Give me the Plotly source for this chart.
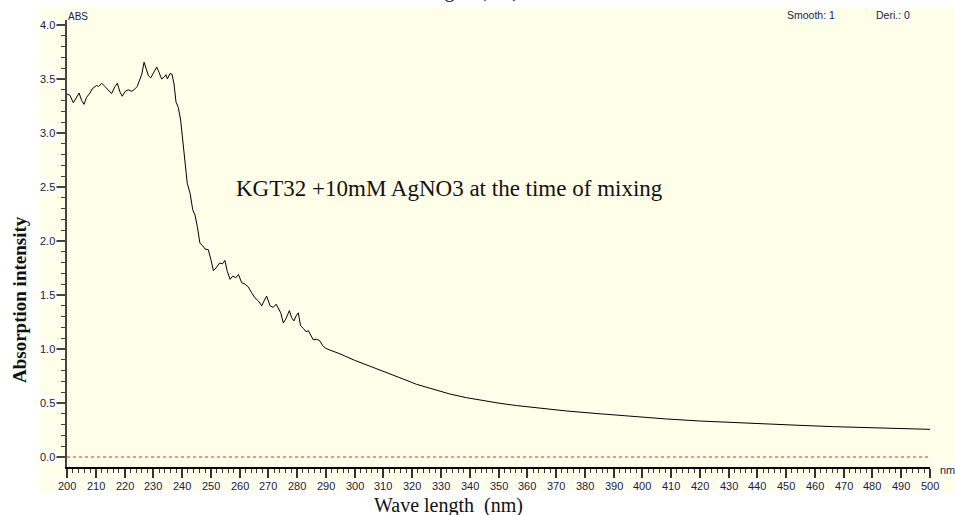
import plotly.graph_objects as go

# Absorbance spectrum (nm, ABS)
wavelength = [
    200, 201, 202.2, 203.4, 204.2, 205.1, 205.9, 206.8, 208, 208.8, 210.3, 211,
    212.1, 213.2, 214.4, 215.5, 216.7, 217.5, 218.4, 219.2, 220.2, 221.3, 222.5,
    223.3, 224.4, 225.1, 226, 226.8, 227.5, 228.3, 229.1, 230, 231.2, 232, 232.9,
    233.7, 234.4, 234.9, 235.8, 236.5, 237.2, 237.9, 238.7, 239.5, 240.2, 241,
    241.8, 242.8, 243.7, 244.5, 245.3, 246.2, 247.2, 248, 249.1, 250, 250.9,
    251.8, 253, 254.1, 254.9, 255.7, 256.7, 257.6, 258.7, 259.6, 260.7, 261.9,
    263, 264.2, 265.3, 266.5, 267.7, 268.5, 269.4, 270.6, 271.7, 272.7, 273.5,
    274.3, 275.2, 276.1, 277.3, 278.1, 278.9, 279.6, 280.4, 281.2, 282.2, 283.1,
    283.9, 284.7, 285.6, 286.8, 287.9, 288.9, 290, 291.4, 293.2, 294.9, 296.6,
    298.4, 300, 304.2, 309.9, 315.7, 321.5, 327.3, 333.1, 338.9, 344.7, 350.5,
    356.3, 362.1, 373.7, 385.3, 396.8, 408.4, 420, 431.6, 443.2, 454.8, 466.4,
    478, 489.5, 500,
]
absorbance = [
    3.36, 3.35, 3.28, 3.33, 3.37, 3.30, 3.265, 3.33, 3.37, 3.41, 3.44, 3.43,
    3.46, 3.43, 3.40, 3.365, 3.43, 3.46, 3.38, 3.34, 3.385, 3.40, 3.385,
    3.40, 3.43, 3.485, 3.545, 3.655, 3.605, 3.53, 3.51, 3.55, 3.61, 3.56, 3.50,
    3.515, 3.54, 3.50, 3.55, 3.545, 3.455, 3.285, 3.235, 3.12, 2.96, 2.75,
    2.535, 2.44, 2.29, 2.24, 2.135, 1.98, 1.955, 1.925, 1.92, 1.83, 1.725,
    1.75, 1.795, 1.79, 1.82, 1.72, 1.645, 1.675, 1.66, 1.69, 1.615, 1.60,
    1.575, 1.52, 1.475, 1.445, 1.40, 1.445, 1.49, 1.40, 1.385, 1.415, 1.37,
    1.335, 1.24, 1.28, 1.355, 1.29, 1.26, 1.305, 1.335, 1.215, 1.19, 1.16,
    1.17, 1.125, 1.085, 1.09, 1.075, 1.03, 1.005, 0.99, 0.975, 0.955, 0.935,
    0.91, 0.895, 0.852, 0.796, 0.734, 0.673, 0.627, 0.583, 0.549, 0.522, 0.497,
    0.476, 0.457, 0.426, 0.400, 0.373, 0.352, 0.333, 0.318, 0.306, 0.293, 0.281,
    0.272, 0.259, 0.256,
]

# Zero baseline
baseline_x = [200, 500]
baseline_y = [0, 0]

x_ticks = list(range(200, 501, 10))
y_ticks = [0.0, 0.5, 1.0, 1.5, 2.0, 2.5, 3.0, 3.5, 4.0]

W, H = 955, 515
ML, MR, MT, MB = 67, 25, 20, 48
PW, PH = W - ML - MR, H - MT - MB

def px_x(p):
    return (p - ML) / PW

def px_y(p):
    return (H - MB - p) / PH

BG = "#FFFEE9"
SANS = "Arial, Liberation Sans, sans-serif"
SERIF = "Times New Roman, Liberation Serif, serif"

fig = go.Figure()

fig.add_trace(go.Scatter(
    x=baseline_x, y=baseline_y, mode="lines",
    line=dict(color="#FF2020", width=1, dash="dot"),
    hoverinfo="skip", showlegend=False,
))
fig.add_trace(go.Scatter(
    x=wavelength, y=absorbance, mode="lines",
    line=dict(color="black", width=1),
    showlegend=False,
))

# pale panel behind the whole chart area
fig.add_shape(
    type="rect", xref="paper", yref="paper", layer="below",
    x0=px_x(40), x1=px_x(960), y0=px_y(492), y1=px_y(8),
    fillcolor=BG, line=dict(width=0),
)

annotations = []
for t in x_ticks:
    annotations.append(dict(
        x=t, y=0, xref="x", yref="paper", yshift=-19,
        text=str(t), showarrow=False, xanchor="center", yanchor="middle",
        font=dict(family=SANS, size=11, color="#222"),
        bgcolor="white", borderpad=1,
    ))
for t in y_ticks:
    annotations.append(dict(
        x=0, y=t, xref="paper", yref="y", xshift=-10,
        text=f"{t:.1f}", showarrow=False, xanchor="right", yanchor="middle",
        font=dict(family=SANS, size=11, color="#222"),
        bgcolor="white", borderpad=1,
    ))

annotations += [
    dict(x=px_x(67), y=px_y(17), xref="paper", yref="paper", text="ABS",
         showarrow=False, xanchor="left", yanchor="middle",
         font=dict(family=SANS, size=10, color="#222"), bgcolor="white", borderpad=0),
    dict(x=px_x(786), y=px_y(15), xref="paper", yref="paper", text="Smooth: 1",
         showarrow=False, xanchor="left", yanchor="middle",
         font=dict(family=SANS, size=10.5, color="#222"), bgcolor="white", borderpad=0),
    dict(x=px_x(875), y=px_y(15), xref="paper", yref="paper", text="Deri.: 0",
         showarrow=False, xanchor="left", yanchor="middle",
         font=dict(family=SANS, size=10.5, color="#222"), bgcolor="white", borderpad=0),
    dict(x=px_x(939), y=px_y(470), xref="paper", yref="paper", text="nm",
         showarrow=False, xanchor="left", yanchor="middle",
         font=dict(family=SANS, size=11, color="#222"), bgcolor="white", borderpad=0),
    dict(x=px_x(449), y=px_y(188), xref="paper", yref="paper",
         text="KGT32 +10mM AgNO3 at the time of mixing",
         showarrow=False, xanchor="center", yanchor="middle",
         font=dict(family=SERIF, size=23, color="#111")),
    dict(x=px_x(448), y=px_y(505), xref="paper", yref="paper",
         text="Wave length  (nm)",
         showarrow=False, xanchor="center", yanchor="middle", borderpad=0,
         font=dict(family=SERIF, size=20, color="#111")),
    dict(x=px_x(444), y=px_y(4), xref="paper", yref="paper",
         text="Wave length  (nm)",
         showarrow=False, xanchor="center", yanchor="bottom",
         font=dict(family=SERIF, size=20, color="#111")),
    dict(x=px_x(19), y=px_y(300), xref="paper", yref="paper",
         text="<b>Absorption intensity</b>", textangle=-90,
         showarrow=False, xanchor="center", yanchor="middle",
         font=dict(family=SERIF, size=19, color="#111")),
]

fig.update_layout(
    width=W, height=H,
    margin=dict(l=ML, r=MR, t=MT, b=MB, pad=0),
    paper_bgcolor="white", plot_bgcolor=BG,
    annotations=annotations,
    xaxis=dict(
        range=[200, 500], showgrid=False, zeroline=False,
        showline=True, linecolor="black", linewidth=2,
        ticks="outside", tickmode="array", tickvals=x_ticks, ticklen=9,
        tickwidth=1.5, tickcolor="#333", showticklabels=False,
        minor=dict(dtick=2, tick0=200, ticks="outside", ticklen=4,
                   tickwidth=1, tickcolor="#333"),
    ),
    yaxis=dict(
        range=[-0.0926, 4.046], showgrid=False, zeroline=False,
        showline=True, linecolor="#444", linewidth=1.5,
        ticks="outside", tickmode="array", tickvals=y_ticks, ticklen=9,
        tickwidth=1.5, tickcolor="#444", showticklabels=False,
        minor=dict(dtick=0.1, tick0=0, ticks="outside", ticklen=4,
                   tickwidth=1, tickcolor="#444"),
    ),
)

fig.write_html("out.html")
